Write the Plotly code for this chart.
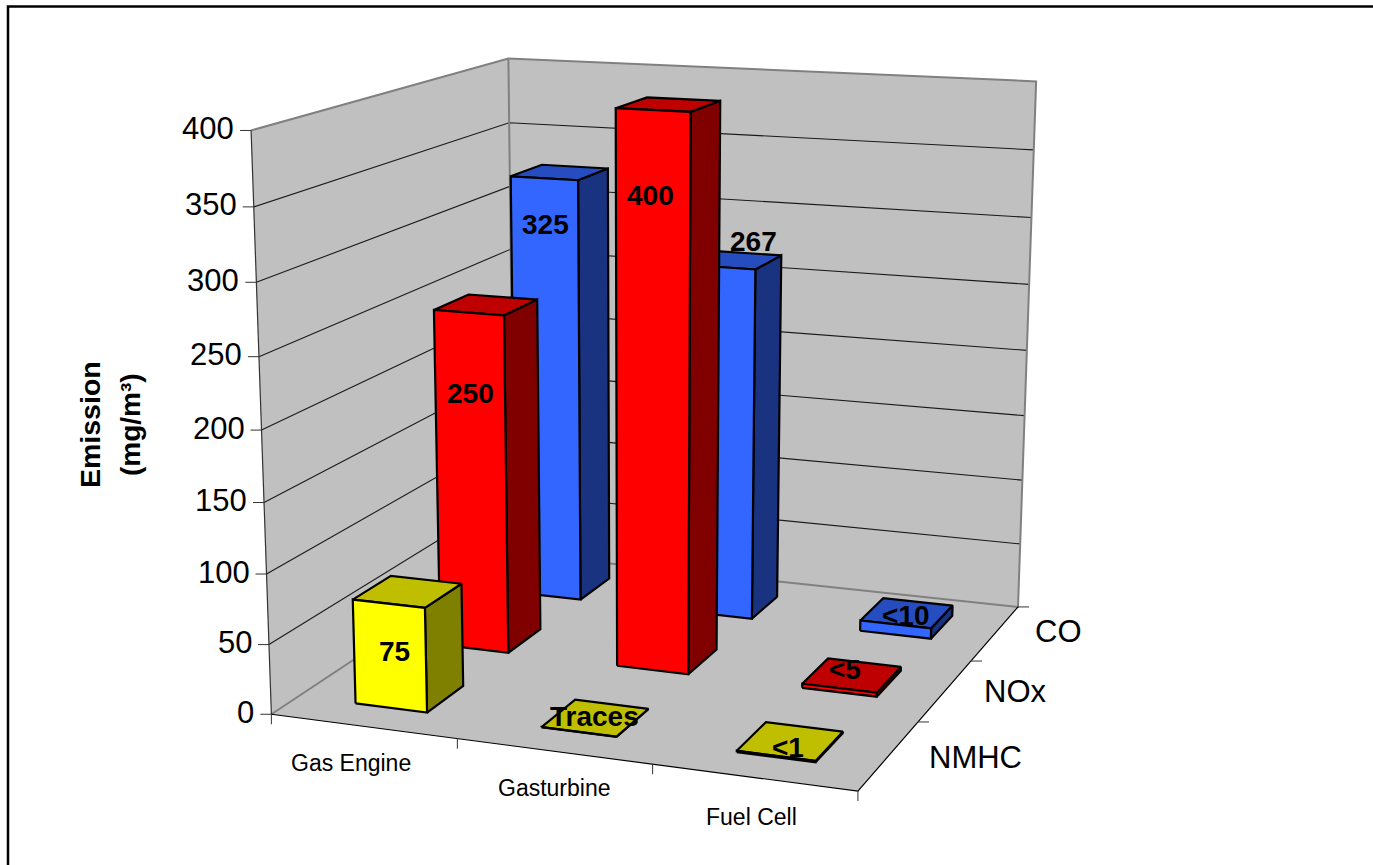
import plotly.graph_objects as go

# ---- data ----
categories = ["Gas Engine", "Gasturbine", "Fuel Cell"]
series = ["NMHC", "NOx", "CO"]
nmhc_values = [75, 0.1, 1]
nox_values = [250, 400, 3]
co_values = [325, 267, 8]
nmhc_labels = ["75", "Traces", "<1"]
nox_labels = ["250", "400", "<5"]
co_labels = ["325", "267", "<10"]
value_ticks = [0, 50, 100, 150, 200, 250, 300, 350, 400]
axis_title = "Emission"
axis_unit = "(mg/m\u00b3)"

# ---- styles and layout ----
W, H = 1373, 865
FONT = "Liberation Sans"
WALL = "#c0c0c0"
EDGE = "#808080"
COLORS = [("#ffff00", "#bfbf00", "#808000"), ("#ff0000", "#bf0000", "#800000"), ("#3366ff", "#264dbf", "#193380")]
BAR_W, BAR_D = 0.39, 0.43
BAR_DX, BAR_DY = 0.51, 0.505
# perspective of the 3-D chart: categories/series/value -> picture position
CAM = [175.06, 113.05, -0.083147, 271.39, 6.7512, -19.13, -1.4763, 714.25, -0.023834, 0.062377, -0.00012905]
CAT_POS = [(351, 763), (554, 788), (751, 817)]
SER_POS = [(975, 757), (1015, 691), (1058, 631)]
VAL_LABEL_POS = [[(394, 651), (594, 716), (788, 747)], [(470, 393), (650, 195), (845, 669)], [(545, 224), (753, 241), (906, 615)]]


def P(x, y, z):
    c = CAM
    w = c[8] * x + c[9] * y + c[10] * z + 1
    return ((c[0] * x + c[1] * y + c[2] * z + c[3]) / w, (c[4] * x + c[5] * y + c[6] * z + c[7]) / w)


fig = go.Figure()


def poly(points, fill=None, color="black", width=1):
    xy = [P(*p) for p in points]
    if fill:
        xy.append(xy[0])
    fig.add_trace(go.Scatter(x=[a for a, _ in xy], y=[b for _, b in xy], mode="lines",
                             fill="toself" if fill else None, fillcolor=fill,
                             line=dict(color=color, width=width), hoverinfo="skip", showlegend=False))


def tick(point, dx, dy, color="#333333"):
    x, y = P(*point)
    fig.add_trace(go.Scatter(x=[x, x + dx], y=[y, y + dy], mode="lines", line=dict(color=color, width=1),
                             hoverinfo="skip", showlegend=False))


nx, ny, top = len(categories), len(series), value_ticks[-1]
# walls and floor
poly([(0, 0, 0), (0, ny, 0), (0, ny, top), (0, 0, top)], fill=WALL, color=WALL, width=0.1)
poly([(0, ny, 0), (nx, ny, 0), (nx, ny, top), (0, ny, top)], fill=WALL, color=WALL, width=0.1)
poly([(0, 0, 0), (nx, 0, 0), (nx, ny, 0), (0, ny, 0)], fill=WALL, color=WALL, width=0.1)
# gridlines
for v in value_ticks[1:-1]:
    poly([(0, 0, v), (0, ny, v), (nx, ny, v)], color="#1a1a1a", width=1.1)
# wall borders
poly([(0, 0, top), (0, ny, top), (nx, ny, top), (nx, ny, 0), (0, ny, 0), (0, 0, 0)], color=EDGE, width=2)
poly([(0, ny, 0), (0, ny, top)], color=EDGE, width=2)
poly([(0, 0, 0), (0, 0, top)], color="#333333", width=1.2)
poly([(0, 0, 0), (nx, 0, 0), (nx, ny, 0)], color="black", width=1.2)
# ticks
for v in value_ticks:
    tick((0, 0, v), -11, 0)
for i in range(nx + 1):
    tick((i, 0, 0), 0, 10)
for j in range(1, ny + 1):
    tick((nx, j, 0), 11, 0)
# bars, far row first
rows = [nmhc_values, nox_values, co_values]
for j in reversed(range(ny)):
    for i in range(nx):
        v = rows[j][i]
        x0, x1 = i + BAR_DX - BAR_W / 2, i + BAR_DX + BAR_W / 2
        y0, y1 = j + BAR_DY - BAR_D / 2, j + BAR_DY + BAR_D / 2
        front, tp, side = COLORS[j]
        poly([(x1, y0, 0), (x1, y1, 0), (x1, y1, v), (x1, y0, v)], fill=side, width=2.2)
        poly([(x0, y0, v), (x1, y0, v), (x1, y1, v), (x0, y1, v)], fill=tp, width=2.2)
        poly([(x0, y0, 0), (x1, y0, 0), (x1, y0, v), (x0, y0, v)], fill=front, width=2.2)

ann = []


def text(x, y, s, size, bold=False, angle=0, anchor="center", xshift=0):
    ann.append(dict(x=x, y=y, xref="x", yref="y", text=s, showarrow=False,
                    xanchor=anchor, yanchor="middle", xshift=xshift, textangle=angle,
                    font=dict(family=FONT, size=size, color="black", weight="bold" if bold else "normal")))


for v in value_ticks:
    x, y = P(0, 0, v)
    text(x, y - 2, str(v), 31, anchor="right", xshift=-15)
for c, (x, y) in zip(categories, CAT_POS):
    text(x, y, c, 23)
for c, (x, y) in zip(series, SER_POS):
    text(x, y, c, 31)
for labs, pos in zip([nmhc_labels, nox_labels, co_labels], VAL_LABEL_POS):
    for s, (x, y) in zip(labs, pos):
        text(x, y, s.replace("<", "&lt;"), 28, bold=True)
text(90, 425, axis_title, 28.5, bold=True, angle=-90)
text(130, 425, axis_unit, 28, bold=True, angle=-90)

fig.update_layout(
    width=W, height=H, margin=dict(l=0, r=0, t=0, b=0), paper_bgcolor="white", plot_bgcolor="white", showlegend=False,
    xaxis=dict(range=[0, W], visible=False, fixedrange=True),
    yaxis=dict(range=[H, 0], visible=False, fixedrange=True),
    annotations=ann,
    shapes=[dict(type="rect", xref="x", yref="y", x0=8, y0=6.5, x1=W + 20, y1=H + 20,
                 line=dict(color="black", width=2.5), layer="above")],
)
fig.write_html("out.html", config={"displayModeBar": False},
               post_script="document.body.style.margin='0';document.body.style.overflow='hidden';")
